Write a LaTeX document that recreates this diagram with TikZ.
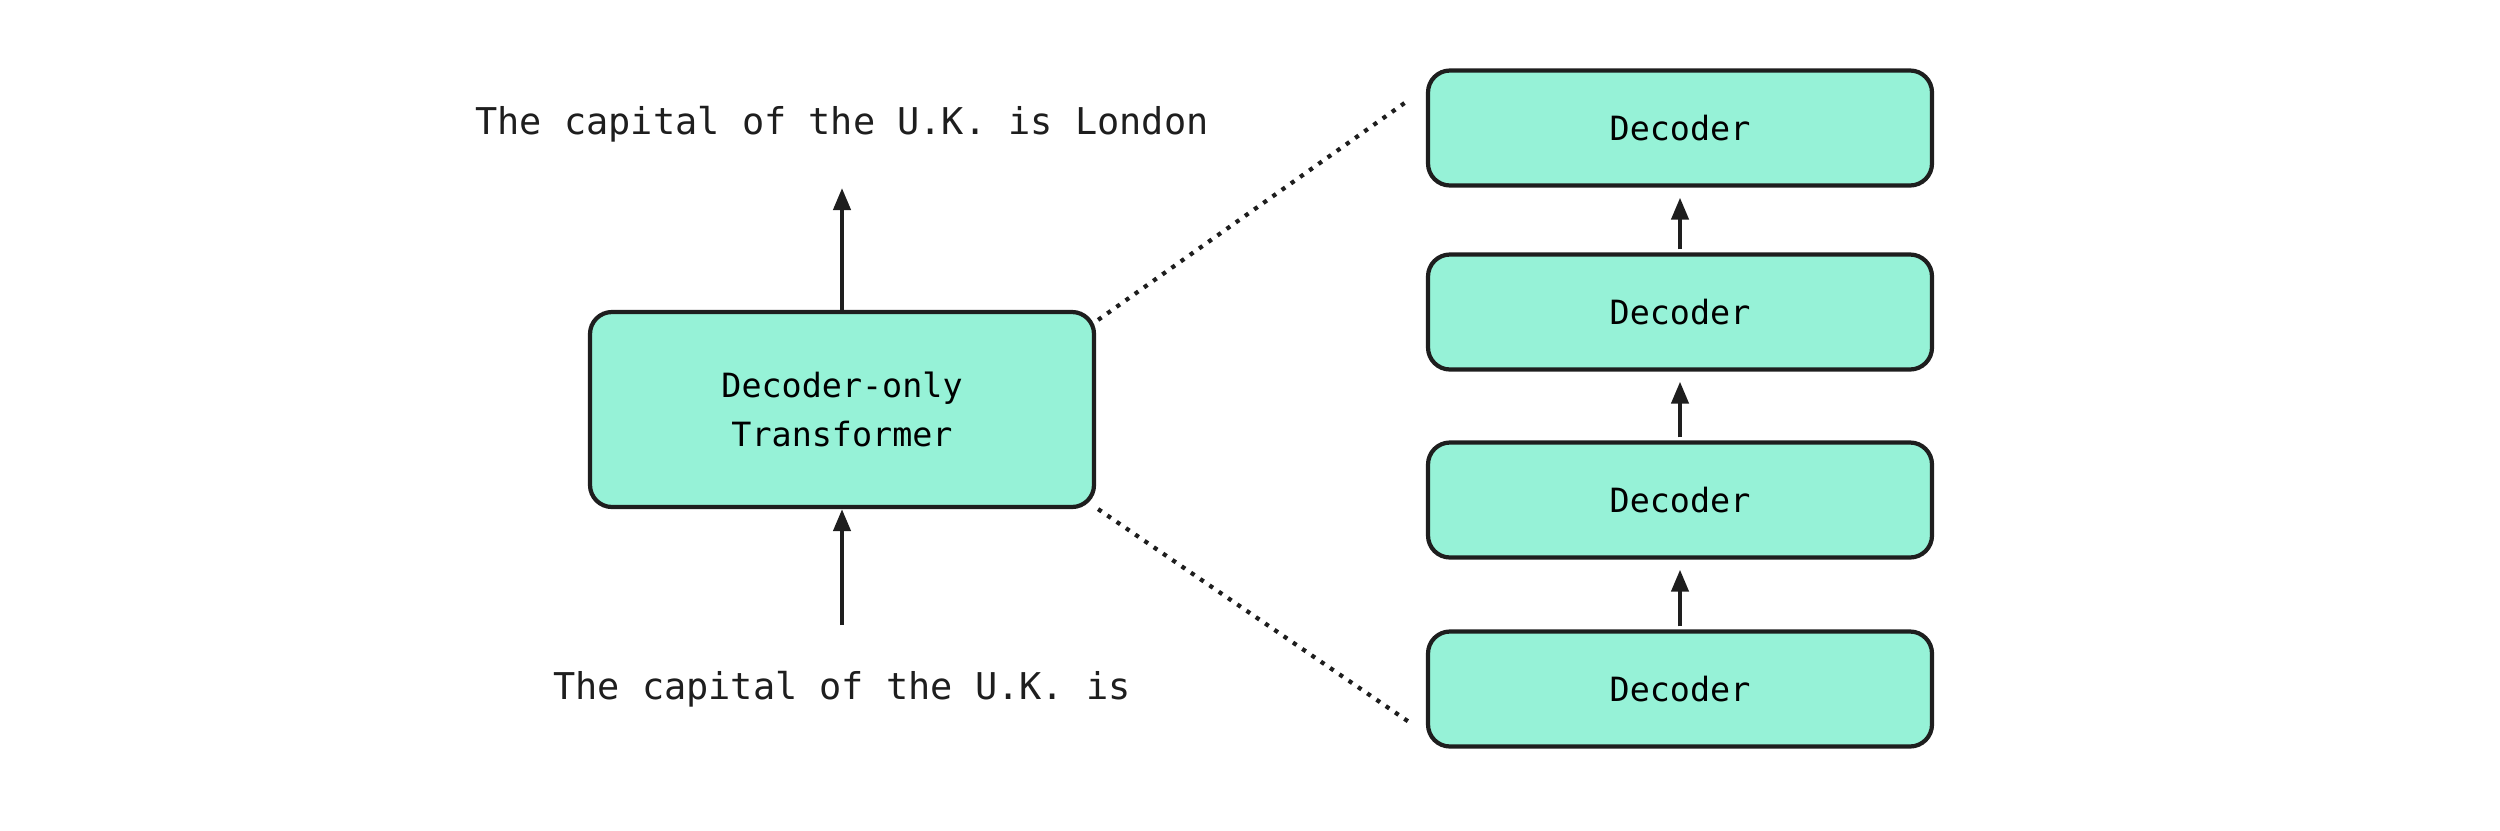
\documentclass[tikz,border=0pt]{standalone}
\usepackage{fontspec}
\setmainfont{DejaVu Sans Mono}
\usetikzlibrary{arrows.meta}
\definecolor{mint}{HTML}{96F2D7}
\definecolor{ink}{HTML}{1E1E1E}
\begin{document}
\begin{tikzpicture}[
  box/.style={draw=ink,line width=1.2pt,fill=mint,rounded corners=0.22cm,align=center,font=\fontsize{9.5pt}{14pt}\selectfont},
  lbl/.style={font=\fontsize{10.5pt}{13pt}\selectfont,text=ink},
  arr/.style={draw=ink,line width=1.2pt,-{Triangle[length=0.22cm,width=0.17cm]}},
  dot/.style={draw=ink,line width=1.2pt,dotted}]
\useasboundingbox (0,0) rectangle (25,8.3);
\node[box,minimum width=5.04cm,minimum height=1.95cm] (m) at (8.42,4.205) {Decoder-only\\Transformer};
\node[lbl] (top) at (8.42,7.06) {The capital of the U.K. is London};
\node[lbl] (bot) at (8.42,1.41) {The capital of the U.K. is};
\coordinate (tipu) at (8.42,6.42);
\coordinate (tail) at (8.42,2.05);
\draw[arr] (m.north) -- (tipu);
\draw[arr] (tail) -- (m.south);
\foreach \n/\y in {d1/7.02,d2/5.18,d3/3.30,d4/1.41}
  \node[box,minimum width=5.04cm,minimum height=1.15cm] (\n) at (16.80,\y) {Decoder};
\draw[arr,shorten >=0.1cm,shorten <=0.03cm] (d2.north) -- (d1.south);
\draw[arr,shorten >=0.1cm,shorten <=0.03cm] (d3.north) -- (d2.south);
\draw[arr,shorten >=0.1cm,shorten <=0.03cm] (d4.north) -- (d3.south);
\coordinate (q1) at (14.06,7.28);
\coordinate (q2) at (14.12,1.06);
\draw[dot] ([xshift=0.02cm,yshift=-0.1cm]m.north east) -- (q1);
\draw[dot] ([xshift=0.02cm]m.south east) -- (q2);
\end{tikzpicture}
\end{document}
